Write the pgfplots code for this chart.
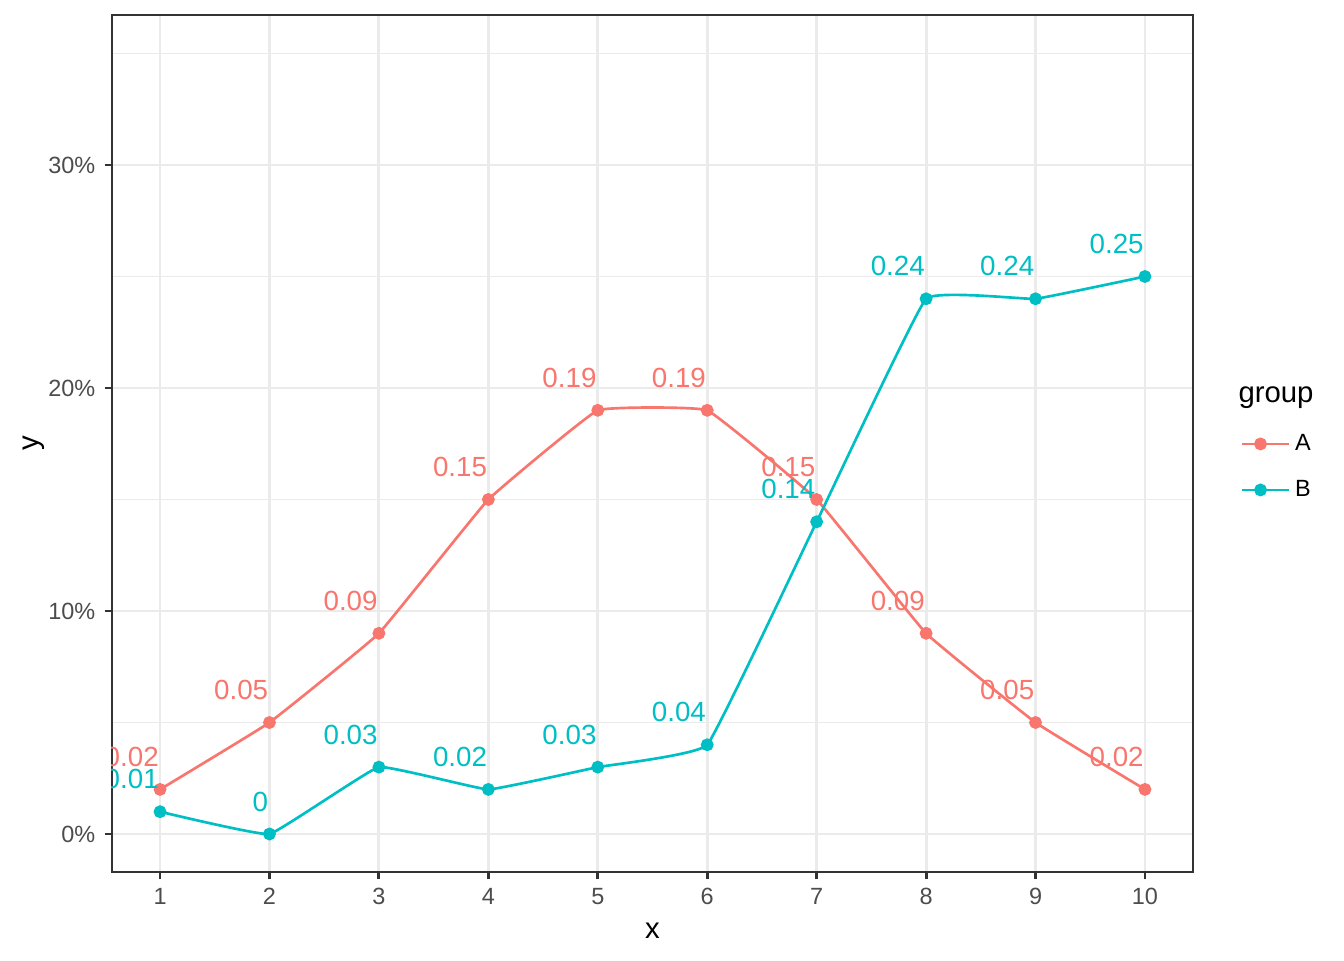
\documentclass[border=0pt]{standalone}
\usepackage{pgfplots}
\pgfplotsset{compat=1.18}
\usepackage{fontspec}
\setmainfont{Liberation Sans}
\definecolor{cA}{HTML}{F8766D}
\definecolor{cB}{HTML}{00BFC4}
\definecolor{g92}{gray}{0.92}
\definecolor{g20}{gray}{0.20}
\definecolor{g30}{gray}{0.30}
\begin{document}
\begin{tikzpicture}
\path[use as bounding box] (0,0) rectangle (504pt,360pt);
\begin{axis}[
  at={(42pt,33pt)}, anchor=south west,
  scale only axis, width=405.375pt, height=321.375pt,
  xmin=0.561, xmax=10.439, ymin=-0.01704, ymax=0.36726,
  xtick={1,...,10},
  ytick={0,0.1,0.2,0.3}, yticklabels={0\%,10\%,20\%,30\%},
  minor ytick={0.05,0.15,0.25,0.35},
  grid=both,
  major grid style={g92, line width=1.07pt},
  minor grid style={g92, line width=0.53pt},
  axis line style={g20, line width=1.07pt},
  tick align=outside, major tick length=2.75pt, minor tick length=0pt,
  tick style={g20, line width=1.07pt},
  xtick pos=bottom, ytick pos=left,
  /pgf/number format/assume math mode=true,
  ticklabel style={font=\fontsize{8.8}{10}\selectfont, text=g30},
  xticklabel style={yshift=0.2pt},
  xlabel={x}, ylabel={y},
  label style={font=\fontsize{11}{13}\selectfont},
  xlabel style={yshift=0pt},
  ylabel style={yshift=-5.6pt},
  clip mode=individual,
  clip marker paths=true,
  nodes near coords,
  point meta=explicit symbolic,
  every node near coord/.style={anchor=base east, inner sep=0pt, yshift=8.6pt, font=\fontsize{10.4}{12}\selectfont},
  legend style={at={(1240pt*0.375-42pt,960pt*0.375-33pt-428pt*0.375)}, anchor=north west, draw=none, fill=none,
    font=\fontsize{8.8}{10}\selectfont, row sep=5.7pt, inner sep=0pt},
  legend cell align=left,
  legend image code/.code={\path (0pt,0pt) -- (17.5pt,0pt); \draw[mark repeat=2,mark phase=2,#1] plot coordinates {(0pt,0pt) (7pt,0pt) (14pt,0pt)};},
]
\addplot[cA, line width=1pt, smooth, tension=0.15, mark=*, mark size=1.9pt, mark options={solid}, nodes near coords style={text=cA}] coordinates {
(1,0.02)[0.02] (2,0.05)[0.05] (3,0.09)[0.09] (4,0.15)[0.15] (5,0.19)[0.19]
(6,0.19)[0.19] (7,0.15)[0.15] (8,0.09)[0.09] (9,0.05)[0.05] (10,0.02)[0.02]};
\addlegendentry{A}
\addplot[cB, line width=1pt, smooth, tension=0.15, mark=*, mark size=1.9pt, mark options={solid}, nodes near coords style={text=cB}] coordinates {
(1,0.01)[0.01] (2,0)[0] (3,0.03)[0.03] (4,0.02)[0.02] (5,0.03)[0.03]
(6,0.04)[0.04] (7,0.14)[0.14] (8,0.24)[0.24] (9,0.24)[0.24] (10,0.25)[0.25]};
\addlegendentry{B}
\end{axis}
\node[anchor=base west, inner sep=0pt, font=\fontsize{11}{13}\selectfont] at (1238pt*0.375, 360pt-402pt*0.375) {group};
\end{tikzpicture}
\end{document}
